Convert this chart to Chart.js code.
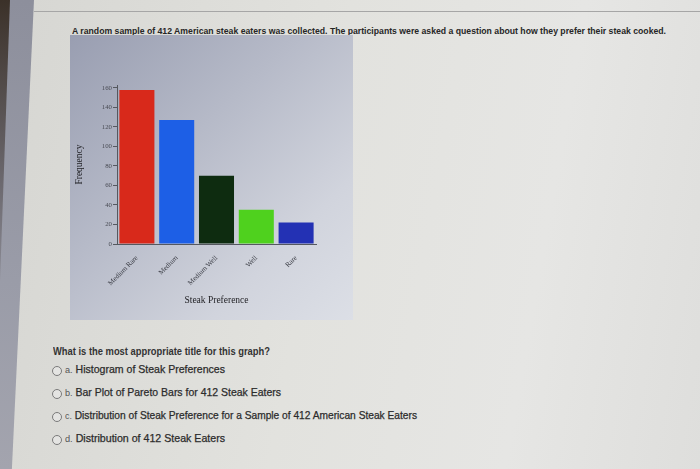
<!DOCTYPE html>
<html>
<head>
<meta charset="utf-8">
<script src="https://cdn.jsdelivr.net/npm/chart.js@4.4.1/dist/chart.umd.min.js"></script>
<style>
  html, body { margin: 0; padding: 0; }
  body {
    width: 700px; height: 469px; overflow: hidden; position: relative;
    background: linear-gradient(100deg, #d6d6d2 0%, #e2e2de 45%, #e6e6e4 75%, #dededc 100%);
    font-family: "Liberation Sans", Arial, sans-serif;
    color: #2a2a2a;
  }
  #edge {
    position: absolute; left: 0; top: 0; width: 34px; height: 469px;
    background: linear-gradient(180deg, #8d8f9c 0%, #9a9ca8 60%, #a3a4ae 100%);
    clip-path: polygon(0 0, 100% 0, 35% 100%, 0 100%);
  }
  #edgeDark {
    position: absolute; left: 0; top: 0; width: 10px; height: 469px;
    background: linear-gradient(180deg, #3b3129 0%, #6d6a70 40%, #9a9ca8 70%);
    clip-path: polygon(0 0, 100% 0, 0 60%);
  }
  #topline {
    position: absolute; left: 34px; right: 0; top: 11px; height: 1px;
    background: #a6a6a6;
  }
  .fit { position: absolute; white-space: nowrap; transform-origin: 0 50%; }
  #intro { left: 72px; top: 25px; font-size: 9.6px; font-weight: bold; color: #262626; }
  #panel {
    position: absolute; left: 70px; top: 35px; width: 283px; height: 285px;
    background: linear-gradient(135deg, #999eb1 0%, #b6bac8 40%, #d1d4dd 75%, #dcdfe6 100%);
  }
  #panel canvas { position: absolute; left: 0; top: 0; }
  #question { left: 53px; top: 346px; font-size: 10px; font-weight: bold; color: #333; }
  .radio {
    position: absolute; left: 52px; width: 8px; height: 8px; border: 1.3px solid #7a7a7a;
    border-radius: 50%; background: #e4e4e2;
  }
  .opt { left: 65px; font-size: 10.4px; color: #2c2c2c; -webkit-text-stroke: 0.25px #2c2c2c; }
  .opt span.l { font-size: 9px; color: #555; -webkit-text-stroke: 0; }
</style>
</head>
<body>
<div id="edge"></div>
<div id="edgeDark"></div>
<div id="topline"></div>
<div id="intro" class="fit" data-w="594">A random sample of 412 American steak eaters was collected. The participants were asked a question about how they prefer their steak cooked.</div>
<div id="panel"><canvas id="bars" width="283" height="285"></canvas></div>
<div id="question" class="fit" data-w="217">What is the most appropriate title for this graph?</div>
<div class="radio" style="top:366px"></div>
<div class="radio" style="top:389px"></div>
<div class="radio" style="top:412px"></div>
<div class="radio" style="top:435px"></div>
<div class="opt fit" style="top:364px" data-w="160"><span class="l">a.</span> Histogram of Steak Preferences</div>
<div class="opt fit" style="top:387px" data-w="216"><span class="l">b.</span> Bar Plot of Pareto Bars for 412 Steak Eaters</div>
<div class="opt fit" style="top:410px" data-w="352"><span class="l">c.</span> Distribution of Steak Preference for a Sample of 412 American Steak Eaters</div>
<div class="opt fit" style="top:433px" data-w="160"><span class="l">d.</span> Distribution of 412 Steak Eaters</div>

<script>
const categories = ["Medium Rare", "Medium", "Medium Well", "Well", "Rare"];
const counts = [158, 127, 70, 35, 22];
const barColors = ["#d8291b", "#1d5fe6", "#0e2c10", "#4fd11e", "#2331b4"];
const yTicks = [0, 20, 40, 60, 80, 100, 120, 140, 160];

// squeeze each text line to the width it has in the photo
document.querySelectorAll(".fit").forEach(el => {
  const w = el.getBoundingClientRect().width;
  el.style.transform = "scaleX(" + (parseFloat(el.dataset.w) / w) + ")";
});

const serif = "'Liberation Serif', 'DejaVu Serif', serif";

new Chart(document.getElementById("bars"), {
  type: "bar",
  data: {
    labels: categories,
    datasets: [{
      data: counts,
      backgroundColor: barColors,
      borderWidth: 0,
      categoryPercentage: 1,
      barPercentage: 0.88
    }]
  },
  options: {
    responsive: false,
    animation: false,
    layout: { padding: { left: 0, right: 37, top: 50, bottom: 12 } },
    plugins: { legend: { display: false }, tooltip: { enabled: false } },
    scales: {
      x: {
        grid: { display: false },
        border: { display: true, color: "#55585f", width: 1 },
        ticks: {
          color: "#3a3c44", font: { family: serif, size: 7 },
          minRotation: 45, maxRotation: 45, padding: 2
        },
        title: {
          display: true, text: "Steak Preference", color: "#1e1e22",
          font: { family: serif, size: 9.5 }, padding: { top: 4, bottom: 2 }
        },
        afterFit: s => { s.height = 64; }
      },
      y: {
        min: 0, max: 163,
        afterBuildTicks: s => { s.ticks = yTicks.map(v => ({ value: v })); },
        grid: { drawOnChartArea: false, drawTicks: true, tickLength: 4, color: "#55585f" },
        border: { display: true, color: "#55585f", width: 1 },
        ticks: { color: "#4a4c55", font: { family: serif, size: 6.8 }, padding: 1 },
        title: {
          display: true, text: "Frequency", color: "#1e1e22",
          font: { family: serif, size: 9.5 }, padding: { top: 4, bottom: 4 }
        },
        afterFit: s => { s.width = 47; }
      }
    }
  }
});
</script>
</body>
</html>
